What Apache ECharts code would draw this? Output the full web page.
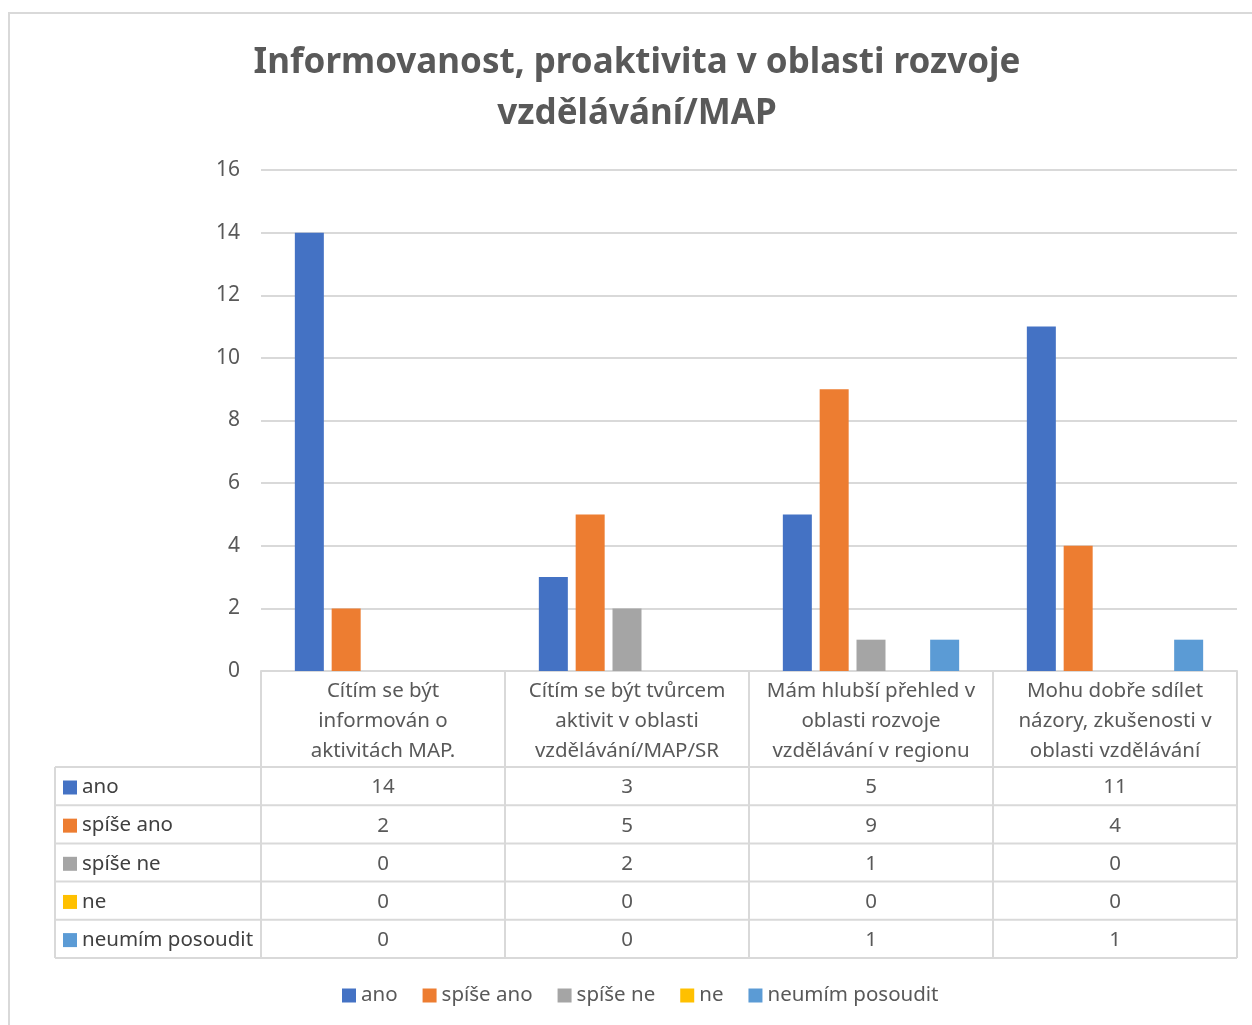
<!DOCTYPE html>
<html>
<head>
<meta charset="utf-8">
<script src="https://cdn.jsdelivr.net/npm/echarts@6/dist/echarts.min.js"></script>
<style>
  body { margin: 0; background: #fff; }
  #main { width: 1252px; height: 1025px; }
</style>
</head>
<body>
<div id="main"></div>
<script>
// kategorie (otázky)
var categories = [
  'Cítím se být\ninformován o\naktivitách MAP.',
  'Cítím se být tvůrcem\naktivit v oblasti\nvzdělávání/MAP/SR',
  'Mám hlubší přehled v\noblasti rozvoje\nvzdělávání v regionu',
  'Mohu dobře sdílet\nnázory, zkušenosti v\noblasti vzdělávání'
];
var seriesNames = ['ano', 'spíše ano', 'spíše ne', 'ne', 'neumím posoudit'];
var ano = [14, 3, 5, 11];
var spiseAno = [2, 5, 9, 4];
var spiseNe = [0, 2, 1, 0];
var ne = [0, 0, 0, 0];
var neumim = [0, 0, 1, 1];
var yTicks = [0, 2, 4, 6, 8, 10, 12, 14, 16];

var values = [ano, spiseAno, spiseNe, ne, neumim];
var colors = ['#4472C4', '#ED7D31', '#A5A5A5', '#FFC000', '#5B9BD5'];

// rozložení
var gridLeft = 261, gridRight = 15, gridTop = 170, gridBottomY = 671;
var headerH = 96, rowH = 38.2, tableLeft = 55;
var lineColor = '#d9d9d9';
var textColor = '#595959';
var font = "'Noto Sans', 'Open Sans', sans-serif";
var fs = 20.5;

var chart = echarts.init(document.getElementById('main'));

var xAxes = [{
  type: 'category',
  data: categories,
  position: 'bottom',
  axisLine: { show: true, lineStyle: { color: lineColor, width: 2 } },
  axisTick: { show: true, length: headerH + rowH * 5, lineStyle: { color: lineColor, width: 2 } },
  axisLabel: { interval: 0, margin: 5, fontSize: fs, lineHeight: 30, color: textColor, fontFamily: font }
}];
values.forEach(function (row, i) {
  xAxes.push({
    type: 'category',
    data: categories,
    position: 'bottom',
    offset: headerH + rowH * i,
    axisLine: { show: false },
    axisTick: { show: false },
    axisLabel: {
      interval: 0, margin: 10, fontSize: fs, color: textColor, fontFamily: font,
      formatter: function (v, idx) { return String(row[idx]); }
    }
  });
});

var series = seriesNames.map(function (name, i) {
  return {
    name: name,
    type: 'bar',
    data: values[i],
    barWidth: 29,
    barGap: '27%',
    itemStyle: { color: colors[i] }
  };
});

// čáry tabulky
var tableLines = [];
for (var r = 0; r <= 5; r++) {
  var y = gridBottomY + headerH + rowH * r;
  tableLines.push({
    type: 'line',
    shape: { x1: tableLeft, y1: y, x2: 1252 - gridRight, y2: y },
    style: { stroke: lineColor, lineWidth: 2 }
  });
}
tableLines.push({
  type: 'line',
  shape: { x1: tableLeft, y1: gridBottomY + headerH, x2: tableLeft, y2: gridBottomY + headerH + rowH * 5 },
  style: { stroke: lineColor, lineWidth: 2 }
});
tableLines.push({
  type: 'rect',
  shape: { x: 9, y: 13, width: 1400, height: 1200 },
  style: { fill: null, stroke: lineColor, lineWidth: 2 },
  z: -1
});

chart.setOption({
  backgroundColor: '#fff',
  animation: false,
  title: {
    text: 'Informovanost, proaktivita v oblasti rozvoje\nvzdělávání/MAP',
    left: 632,
    top: 33,
    textAlign: 'center',
    textStyle: { fontSize: 35, fontWeight: 'bold', color: textColor, lineHeight: 51, fontFamily: font }
  },
  legend: [{
    orient: 'vertical',
    left: 58,
    top: 772,
    itemWidth: 14,
    itemHeight: 14,
    itemGap: rowH - 21.05,
    icon: 'rect',
    data: seriesNames,
    textStyle: { fontSize: fs, color: '#404040', fontFamily: font }
  }, {
    orient: 'horizontal',
    left: 337,
    top: 980,
    itemWidth: 14,
    itemHeight: 14,
    itemGap: 25,
    icon: 'rect',
    data: seriesNames,
    textStyle: { fontSize: fs, color: textColor, fontFamily: font }
  }],
  grid: { left: gridLeft, right: gridRight, top: gridTop, bottom: 1025 - gridBottomY, containLabel: false },
  xAxis: xAxes,
  yAxis: {
    type: 'value',
    min: 0,
    max: 16,
    interval: 2,
    axisLine: { show: false },
    axisTick: { show: false },
    axisLabel: { margin: 21, fontSize: 21, color: textColor, fontFamily: font },
    splitLine: { lineStyle: { color: lineColor, width: 2 } }
  },
  series: series,
  graphic: tableLines
});
</script>
</body>
</html>
